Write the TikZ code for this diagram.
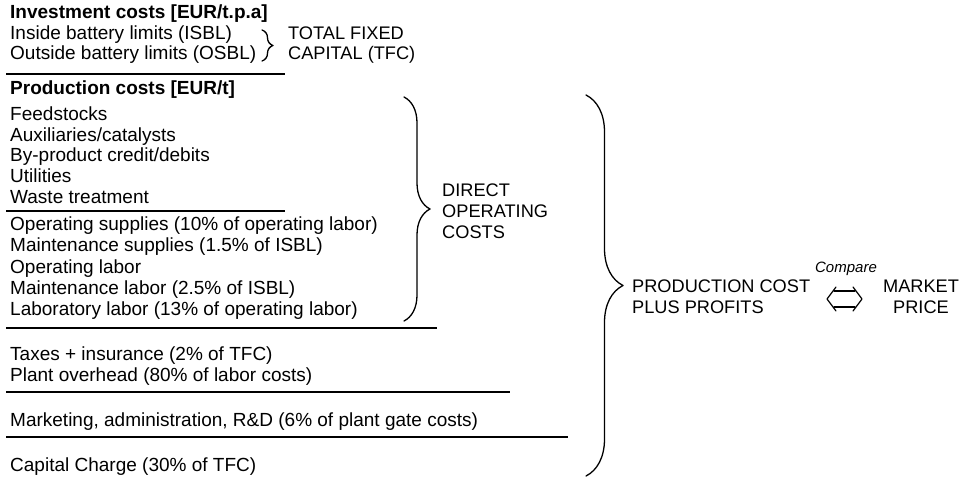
\documentclass[tikz,border=0pt]{standalone}
\usepackage{fontspec}
\setmainfont{Liberation Sans}
\usetikzlibrary{decorations.pathreplacing}
\begin{document}
\begin{tikzpicture}[x=1pt, y=-1pt, font=\fontsize{18.2}{20.8}\selectfont, line join=round, line cap=round,
	item/.style={anchor=base west, inner sep=0pt, font=\fontsize{19}{20.8}\selectfont},
	head/.style={item, font=\fontsize{19}{20.8}\selectfont\bfseries},
	rule/.style={line width=2.4pt, line cap=butt},
	curly/.style={decorate, decoration={brace, amplitude=#1}, line width=1.3pt},
	tag/.style={anchor=west, inner sep=0pt, align=left}]
	\useasboundingbox (0,0) rectangle (960,479);
	% investment
	\node[head] (inv) at (10,18) {Investment costs [EUR/t.p.a]};
	\node[item] (isbl) at (10,39) {Inside battery limits (ISBL)};
	\node[item] (osbl) at (10,59) {Outside battery limits (OSBL)};
	\draw[curly=11] (262,30) -- (262,61);
	\node[tag] (tfc) at (288,45) {TOTAL FIXED\\CAPITAL (TFC)};
	\draw[rule] (6,74) -- (285,74);
	% production
	\node[head] (prod) at (10,94) {Production costs [EUR/t]};
	\foreach \y/\t [count=\i] in {120/Feedstocks, 141/{Auxiliaries/catalysts}, 161/{By-product credit/debits}, 182/Utilities, 203/Waste treatment,
		230/{Operating supplies (10\% of operating labor)}, 251/{Maintenance supplies (1.5\% of ISBL)}, 273/Operating labor,
		294/{Maintenance labor (2.5\% of ISBL)}, 315/{Laboratory labor (13\% of operating labor)},
		360/{Taxes + insurance (2\% of TFC)}, 381/{Plant overhead (80\% of labor costs)},
		426/{Marketing, administration, R\&D (6\% of plant gate costs)}, 471/{Capital Charge (30\% of TFC)}}
		\node[item] (r\i) at (10,\y) {\t};
	\draw[line width=1.6pt, line cap=butt] (6,211) -- (285,211);
	\draw[rule] (6,328) -- (437,328);
	\draw[rule] (6,392) -- (510,392);
	\draw[rule] (6,437) -- (568,437);
	% braces
	\draw[curly=26] (404,97) -- (404,321);
	\node[tag] (doc) at (442,211) {DIRECT\\OPERATING\\COSTS};
	\draw[curly=37] (586,95) -- (586,476);
	\node[tag] (pcp) at (632,297) {PRODUCTION COST\\PLUS PROFITS};
	\node[align=center, inner sep=0pt] (mkt) at (921,297) {MARKET\\PRICE};
	\node[inner sep=0pt, font=\fontsize{15}{17}\selectfont\itshape] (cmp) at (846,269) {Compare};
	% compare arrow
	\coordinate (cmpL) at (827,299);
	\coordinate (cmpR) at (862,299);
	\draw[line width=1.2pt] (834,291) -- (855,291) (834,307) -- (855,307);
	\draw[line width=1.2pt] (836,287) .. controls (832,293) .. (cmpL) .. controls (832,305) .. (836,311);
	\draw[line width=1.2pt] (853,287) .. controls (857,293) .. (cmpR) .. controls (857,305) .. (853,311);
\end{tikzpicture}
\end{document}
